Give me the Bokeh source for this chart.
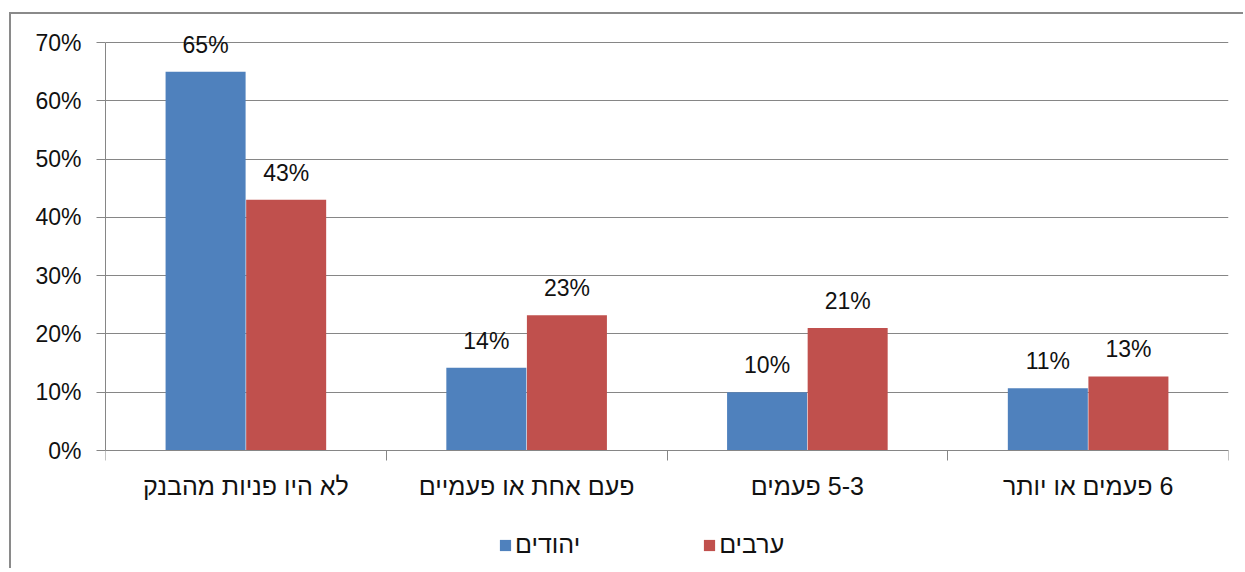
from bokeh.plotting import figure
from bokeh.models import (Range1d, LinearAxis, FixedTicker, PrintfTickFormatter,
                          Legend, LegendItem, ColumnDataSource, Grid)
from bokeh.transform import dodge
from bokeh.core.properties import value
from bokeh.embed import file_html
from bokeh.resources import INLINE

# ---- data ----
categories = ["לא היו פניות מהבנק", "פעם אחת או פעמיים", "\u200f5-3 פעמים", "\u200f6 פעמים או יותר"]
series_names = ["יהודים", "ערבים"]
jews = [65.0, 14.2, 10.0, 10.7]
arabs = [43.0, 23.2, 21.0, 12.7]
y_ticks = [0, 10, 20, 30, 40, 50, 60, 70]

BLUE = "#4F81BD"
RED = "#C0504D"
GRAY = "#868686"
FONT = "Liberation Sans"
FS = "23px"
FS_HE = "25px"

# ---- geometry (pixels) ----
W, H = 1234, 556
TOP, LEFT, RIGHT = 28, 94, 17     # pixels above the 70% line, left/right borders
PLOT_PX = 408                     # pixel height of the 0..max value area
y_max = y_ticks[-1]
per_px = y_max / PLOT_PX
y_top = y_max + TOP * per_px                       # room above for labels
y_min = -(H - TOP - PLOT_PX) * per_px              # room below zero for labels & legend

n = len(categories)
centers = [i + 0.5 for i in range(n)]
bounds = [float(i) for i in range(n + 1)]

src = ColumnDataSource(dict(
    x=centers,
    jews=jews,
    arabs=arabs,
    jl=[f"{round(v)}%" for v in jews],
    al=[f"{round(v)}%" for v in arabs],
))

p = figure(width=W, height=H, x_range=Range1d(0, n), y_range=Range1d(y_min, y_top),
           output_backend="svg", toolbar_location=None,
           x_axis_type=None, y_axis_type=None,
           min_border_left=LEFT, min_border_right=RIGHT, min_border_top=0, min_border_bottom=0)
p.outline_line_color = None
p.background_fill_color = "white"
p.border_fill_color = "white"
p.styles = {"margin-top": "12px", "margin-left": "9px",
            "border-left": "2px solid #8a8a8a", "border-top": "2px solid #8a8a8a"}

# y axis
yaxis = LinearAxis(ticker=FixedTicker(ticks=y_ticks), formatter=PrintfTickFormatter(format="%d%%"),
                   bounds=(0, y_max))
yaxis.axis_line_color = GRAY
yaxis.major_tick_line_color = GRAY
yaxis.major_tick_out = 9
yaxis.major_tick_in = 0
yaxis.minor_tick_line_color = None
yaxis.major_label_standoff = 15
yaxis.major_label_text_font = FONT
yaxis.major_label_text_font_size = FS
yaxis.major_label_text_color = "#111111"
p.add_layout(yaxis, "left")

# x axis at value 0: labels at centers, tick marks at category boundaries
xaxis = LinearAxis(ticker=FixedTicker(ticks=centers, minor_ticks=bounds),
                   major_label_overrides={c: lab for c, lab in zip(centers, categories)},
                   fixed_location=0)
xaxis.axis_line_color = GRAY
xaxis.major_tick_line_color = None
xaxis.major_tick_out = 0
xaxis.major_tick_in = 0
xaxis.minor_tick_line_color = GRAY
xaxis.minor_tick_out = 10
xaxis.minor_tick_in = 0
xaxis.major_label_standoff = 11
xaxis.major_label_text_font = FONT
xaxis.major_label_text_font_size = FS_HE
xaxis.major_label_text_color = "#111111"
p.add_layout(xaxis, "below")

grid = Grid(dimension=1, ticker=yaxis.ticker)
grid.grid_line_color = GRAY
grid.grid_line_width = 1
p.add_layout(grid)

off = 0.1435
bw = 0.285
r1 = p.vbar(x=dodge("x", -off), top="jews", width=bw, source=src,
            fill_color=BLUE, line_color=None)
r2 = p.vbar(x=dodge("x", off), top="arabs", width=bw, source=src,
            fill_color=RED, line_color=None)

for xo, col in ((-off, "jl"), (off, "al")):
    top = "jews" if col == "jl" else "arabs"
    p.text(x=dodge("x", xo), y=top, text=col, source=src,
           text_align="center", text_baseline="alphabetic", y_offset=-27,
           text_font=value(FONT), text_font_size=FS, text_color="#111111")

legend = Legend(items=[LegendItem(label=series_names[0], renderers=[r1]),
                       LegendItem(label=series_names[1], renderers=[r2])],
                location=(393, 11), orientation="horizontal")
legend.glyph_width = 14
legend.glyph_height = 14
legend.label_standoff = 3
legend.spacing = 122
legend.padding = 0
legend.margin = 0
legend.border_line_color = None
legend.background_fill_alpha = 0
legend.label_text_font = FONT
legend.label_text_font_size = FS_HE
legend.label_text_color = "#111111"
p.add_layout(legend)

open("out.html", "w").write(file_html(p, INLINE))
